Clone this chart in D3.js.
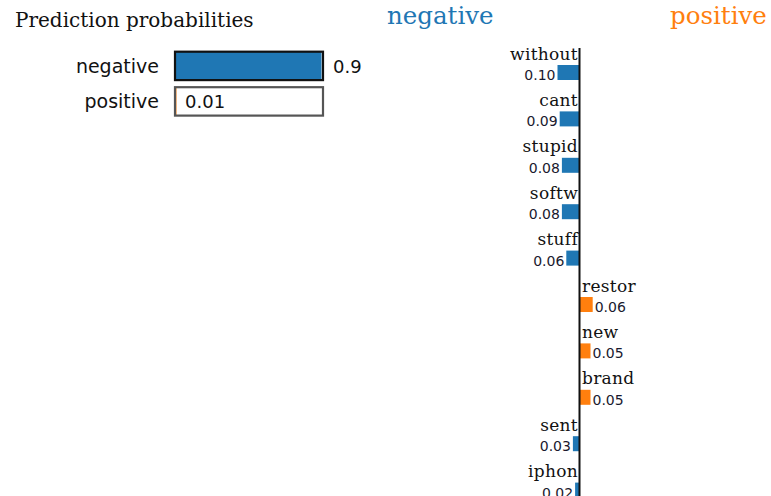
<!DOCTYPE html>
<html>
<head>
<meta charset="utf-8">
<script src="https://cdn.jsdelivr.net/npm/d3@7"></script>
<style>
  html, body { margin: 0; padding: 0; background: #fff; }
  svg { display: block; }
</style>
</head>
<body>
<svg id="chart" width="771" height="496"></svg>
<script>
// ---- data ----
const classNames = ["negative", "positive"];
const classProbs = [0.99, 0.01];
const classProbLabels = ["0.9", "0.01"];

const features = ["without", "cant", "stupid", "softw", "stuff", "restor", "new", "brand", "sent", "iphon"];
const weights = [-0.10, -0.09, -0.08, -0.08, -0.06, 0.06, 0.05, 0.05, -0.03, -0.02];
const weightLabels = ["0.10", "0.09", "0.08", "0.08", "0.06", "0.06", "0.05", "0.05", "0.03", "0.02"];

const colors = { negative: "#1f77b4", positive: "#ff7f0e" };

const svg = d3.select("#chart");

// ---- left panel: prediction probabilities ----
svg.append("text")
  .attr("x", 15).attr("y", 27)
  .attr("font-family", "DejaVu Serif")
  .attr("font-size", 20)
  .attr("fill", "#111")
  .text("Prediction probabilities");

const xProb = d3.scaleLinear().domain([0, 1]).range([175, 323]);
const yProb = d3.scaleBand().domain(classNames).range([51.7, 115.6]).paddingInner(0.2);

const probG = svg.append("g");
classNames.forEach((c, i) => {
  const y = yProb(c), h = yProb.bandwidth();
  probG.append("rect")
    .attr("x", xProb(0)).attr("y", y)
    .attr("width", xProb(classProbs[i]) - xProb(0)).attr("height", h)
    .attr("fill", colors[c]);
  probG.append("rect")
    .attr("x", xProb(0)).attr("y", y)
    .attr("width", xProb(1) - xProb(0)).attr("height", h)
    .attr("fill", "none")
    .attr("stroke", i === 0 ? "#111" : "#555")
    .attr("stroke-width", 2.2);
  probG.append("text")
    .attr("x", xProb(0) - 16).attr("y", y + h / 2 + 7)
    .attr("text-anchor", "end")
    .attr("font-family", "DejaVu Sans")
    .attr("font-size", 19)
    .attr("fill", "#111")
    .text(c);
  const inside = classProbs[i] < 0.5;
  probG.append("text")
    .attr("x", inside ? xProb(0) + 10 : xProb(1) + 10)
    .attr("y", y + h / 2 + 7)
    .attr("font-family", "DejaVu Sans")
    .attr("font-size", 18)
    .attr("fill", "#111")
    .text(classProbLabels[i]);
});

// ---- right panel: feature weights ----
const x0 = 579.5;
const xW = d3.scaleLinear().domain([-0.1, 0.1]).range([x0 - 22, x0 + 22]);
const yW = d3.scaleBand().domain(features).range([48, 48 + 46.4 * features.length]);

svg.append("text")
  .attr("x", 387).attr("y", 24)
  .attr("font-family", "DejaVu Serif")
  .attr("font-size", 24.5)
  .attr("fill", colors.negative)
  .text(classNames[0]);
svg.append("text")
  .attr("x", 670).attr("y", 24)
  .attr("font-family", "DejaVu Serif")
  .attr("font-size", 24.5)
  .attr("fill", colors.positive)
  .text(classNames[1]);

const rows = svg.append("g");
features.forEach((f, i) => {
  const w = weights[i];
  const top = yW(f);
  const neg = w < 0;
  rows.append("rect")
    .attr("x", neg ? xW(w) : xW(0))
    .attr("y", top + 17)
    .attr("width", Math.abs(xW(w) - xW(0)))
    .attr("height", 15)
    .attr("fill", neg ? colors.negative : colors.positive);
  rows.append("text")
    .attr("x", neg ? xW(0) - 1.5 : xW(0) + 2.5)
    .attr("y", top + 11.5)
    .attr("text-anchor", neg ? "end" : "start")
    .attr("font-family", "DejaVu Serif")
    .attr("font-size", 17)
    .attr("letter-spacing", 0.3)
    .attr("fill", "#111")
    .text(f);
  rows.append("text")
    .attr("x", neg ? xW(w) - 2 : xW(w) + 2)
    .attr("y", top + 32)
    .attr("text-anchor", neg ? "end" : "start")
    .attr("font-family", "DejaVu Sans")
    .attr("font-size", 14)
    .attr("fill", "#1a1a2e")
    .text(weightLabels[i]);
});

svg.append("line")
  .attr("x1", x0).attr("x2", x0)
  .attr("y1", 48).attr("y2", 496)
  .attr("stroke", "#111")
  .attr("stroke-width", 2);
</script>
</body>
</html>
